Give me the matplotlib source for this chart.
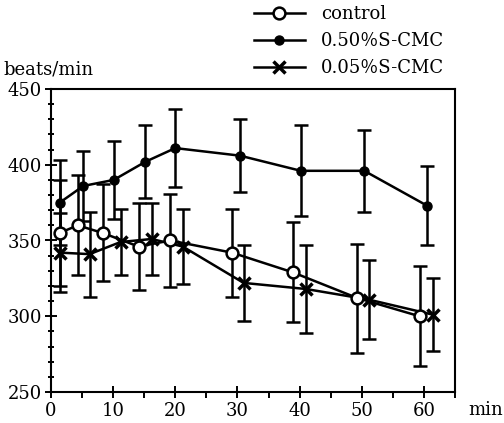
import matplotlib

matplotlib.use("Agg")
import matplotlib.pyplot as plt  # noqa: E402
from matplotlib.ticker import MultipleLocator  # noqa: E402

# ---------------------------------------------------------------------------
# Data (heart rate, beats/min, mean +/- SD)
# ---------------------------------------------------------------------------

ctrl_t = [1.4, 4.3, 8.3, 14.1, 19.2, 29.1, 38.9, 49.3, 59.3]
ctrl_y = [355, 360, 355, 346, 350, 342, 329, 312, 300]
ctrl_sd = [35, 33, 32, 29, 31, 29, 33, 36, 33]

hi_t = [1.4, 5.2, 10.1, 15.2, 20.0, 30.4, 40.2, 50.4, 60.5]
hi_y = [375, 386, 390, 402, 411, 406, 396, 396, 373]
hi_sd = [28, 23, 26, 24, 26, 24, 30, 27, 26]

lo_t = [1.4, 6.2, 11.2, 16.2, 21.2, 31.0, 41.0, 51.1, 61.5]
lo_y = [342, 341, 349, 351, 346, 322, 318, 311, 301]
lo_sd = [26, 28, 22, 24, 25, 25, 29, 26, 24]

labels = ["control", "0.50％S-CMC", "0.05％S-CMC"]

FONT = ["DejaVu Serif", "Noto Sans CJK JP"]
plt.rcParams["font.family"] = FONT
plt.rcParams["font.size"] = 13

fig = plt.figure(figsize=(5.04, 4.23), dpi=100)
ax = fig.add_axes([51 / 504, 1 - 392 / 423, 404 / 504, 303 / 423])

err_kw = dict(fmt="none", ecolor="black", elinewidth=1.8, capsize=5,
              capthick=1.8, zorder=2)
ax.errorbar(ctrl_t, ctrl_y, yerr=ctrl_sd, **err_kw)
ax.errorbar(hi_t, hi_y, yerr=hi_sd, **err_kw)
ax.errorbar(lo_t, lo_y, yerr=lo_sd, **err_kw)

h_ctrl, = ax.plot(ctrl_t, ctrl_y, color="black", lw=1.8, marker="o",
                  markersize=8.5, markerfacecolor="white",
                  markeredgecolor="black", markeredgewidth=1.8, zorder=4)
h_hi, = ax.plot(hi_t, hi_y, color="black", lw=1.8, marker="o",
                markersize=6.5, markerfacecolor="black", zorder=4)
h_lo, = ax.plot(lo_t, lo_y, color="black", lw=1.8, marker="x",
                markersize=8, markeredgewidth=2.5, zorder=3)

ax.set_xlim(0, 65)
ax.set_ylim(250, 450)
ax.xaxis.set_major_locator(MultipleLocator(10))
ax.xaxis.set_minor_locator(MultipleLocator(5))
ax.yaxis.set_major_locator(MultipleLocator(50))
ax.yaxis.set_minor_locator(MultipleLocator(10))
ax.tick_params(axis="both", which="both", top=False, right=False,
               width=1.4, color="black")
ax.tick_params(axis="y", which="major", direction="inout", length=9, pad=2)
ax.tick_params(axis="y", which="minor", direction="inout", length=5)
ax.tick_params(axis="x", which="major", direction="inout", length=9, pad=3)
ax.tick_params(axis="x", which="minor", direction="out", length=4)
for spine in ax.spines.values():
    spine.set_linewidth(1.5)

fig.text(3 / 504, 1 - 70 / 423, "beats/min", ha="left", va="center")
fig.text(468 / 504, 1 - 410 / 423, "min", ha="left", va="center")

fig.legend([h_ctrl, h_hi, h_lo], labels, loc="upper left",
           bbox_to_anchor=(254 / 504, 1 - 5 / 423), frameon=False,
           borderpad=0, handlelength=2.8, handletextpad=0.9,
           labelspacing=0.5, borderaxespad=0)

fig.savefig("out.png", dpi=100)
